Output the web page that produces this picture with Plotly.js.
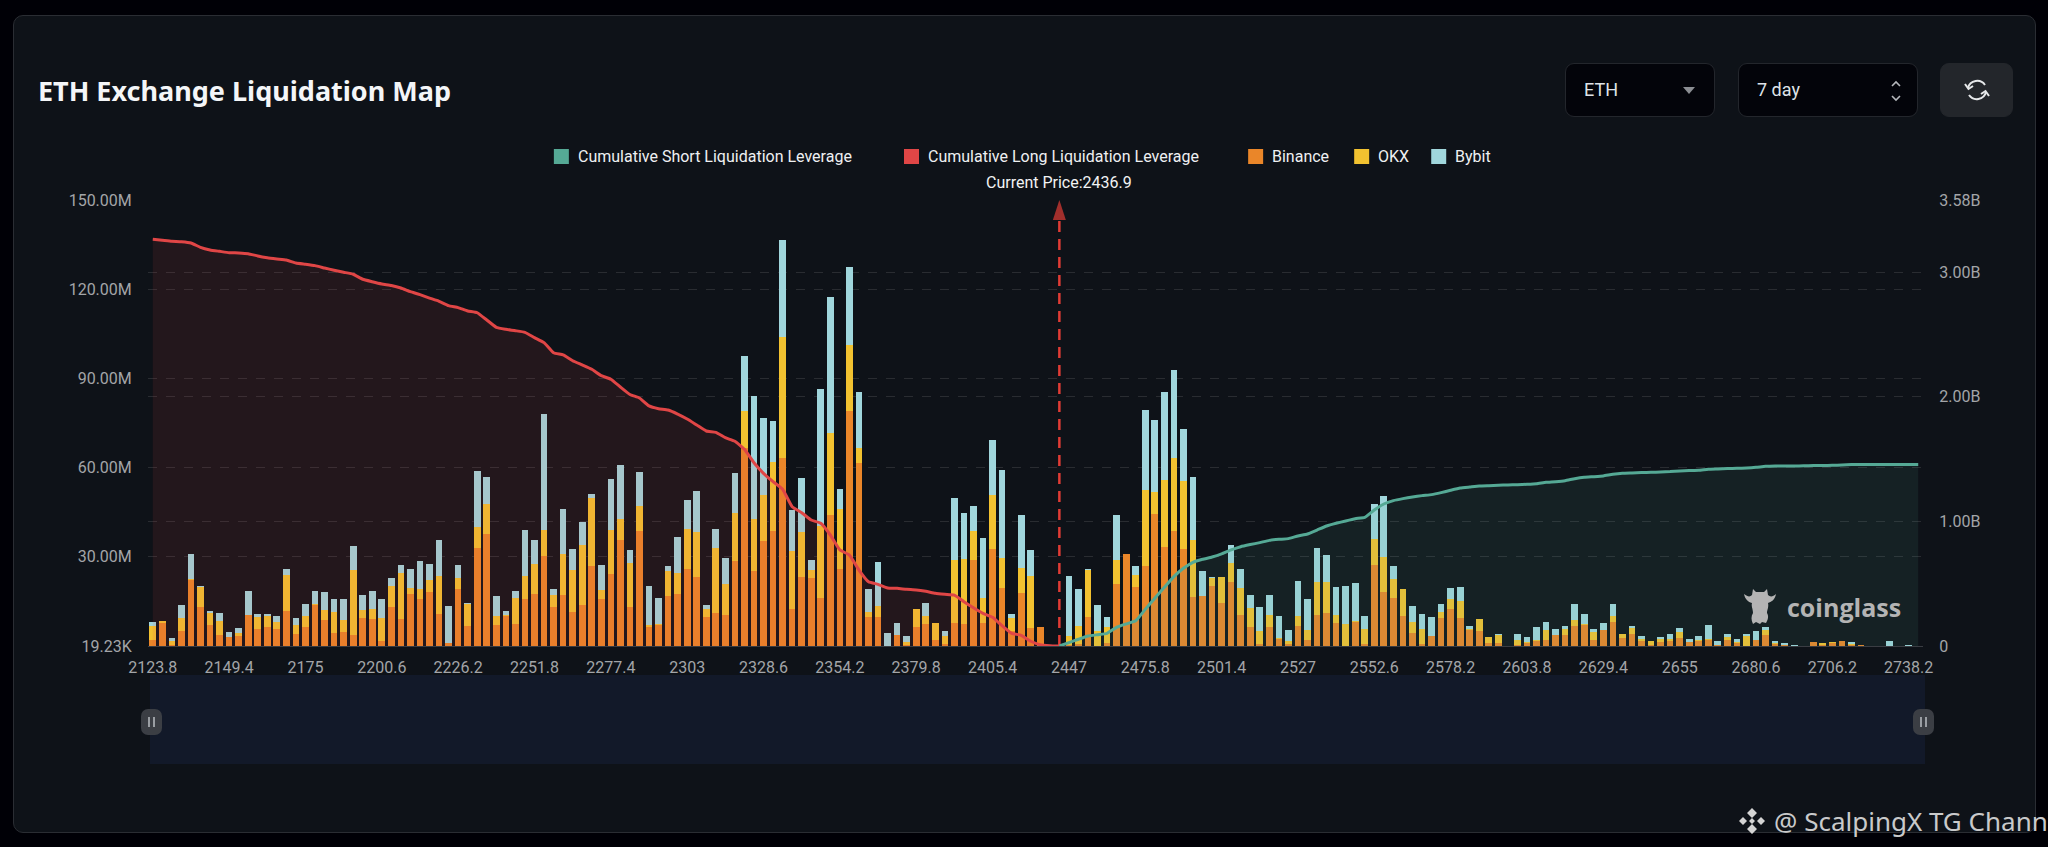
<!DOCTYPE html>
<html>
<head>
<meta charset="utf-8">
<script src="https://cdn.plot.ly/plotly-3.0.1.min.js"></script>
<style>
  html, body { margin: 0; padding: 0; background: #000006; width: 2048px; height: 847px; overflow: hidden; }
  #panel { position: absolute; left: 13px; top: 15px; width: 2021px; height: 816px; background: #0e1218;
           border: 1px solid #2a2d33; border-radius: 10px; box-sizing: content-box; }
  #chart { position: absolute; left: 0; top: 0; width: 2048px; height: 847px; }
  .box { position: absolute; top: 63px; height: 52px; background: #03040a; border: 1px solid #23262c; border-radius: 9px;
         color: #dfe3e8; font: 18px Roboto, sans-serif; line-height: 52px; box-sizing: content-box; }
  .box span { position: absolute; left: 18px; }
  #slider { position: absolute; left: 150px; top: 675px; width: 1775px; height: 89px; background: #121929; }
  .handle { position: absolute; top: 709px; width: 21px; height: 26px; background: #3b3e44; border-radius: 7px; }
  .handle i { position: absolute; top: 8px; width: 2px; height: 10px; background: #9a9ea3; }
  svg.over { position: absolute; pointer-events: none; }
</style>
</head>
<body>
<div id="panel"></div>
<div id="slider"></div>
<div class="handle" style="left:141px"><i style="left:7px"></i><i style="left:12px"></i></div>
<div class="handle" style="left:1913px"><i style="left:7px"></i><i style="left:12px"></i></div>
<div class="box" style="left:1565px;width:148px"><span>ETH</span>
  <svg class="over" style="left:116px;top:22px" width="14" height="10"><path d="M1 1 L13 1 L7 8 Z" fill="#8b8e93"/></svg>
</div>
<div class="box" style="left:1738px;width:178px"><span>7 day</span>
  <svg class="over" style="left:150px;top:15px" width="14" height="24"><path d="M3 7 L7 3 L11 7 M3 17 L7 21 L11 17" fill="none" stroke="#b5b8bc" stroke-width="1.6"/></svg>
</div>
<div class="box" style="left:1940px;width:71px;background:#23262b;border-color:#23262b">
  <svg class="over" style="left:23px;top:14px" width="26" height="24" viewBox="0 0 26 24">
    <path d="M4 10 A9.5 9.5 0 0 1 21 7 M22 14 A9.5 9.5 0 0 1 5 17" fill="none" stroke="#e6e8ea" stroke-width="2"/>
    <path d="M1 6 L4.5 11 L9 8 M25 18 L21.5 13 L17 16" fill="none" stroke="#e6e8ea" stroke-width="2"/>
  </svg>
</div>
<div id="chart"></div>
<svg class="over" style="left:1742px;top:585px" width="36" height="42" viewBox="0 0 36 42">
  <path d="M2 9 C6 12 8 12 10 10 L11 4 L14 7 L22 7 L25 4 L26 10 C28 12 31 12 34 9 C33 15 29 17 26 18 C27 22 25 25 25 28 C27 31 26 35 24 38 L20 37 L18 39 L14 37 L11 39 C9 35 9 31 11 28 C11 24 9 21 10 18 C6 17 3 14 2 9 Z" fill="#b4b4b4"/>
</svg>
<svg class="over" style="left:1738px;top:807px" width="28" height="28" viewBox="0 0 28 28">
  <path d="M14 1 L19 6 L14 11 L9 6 Z M14 17 L19 22 L14 27 L9 22 Z M5 10 L9 14 L5 18 L1 14 Z M23 10 L27 14 L23 18 L19 14 Z M14 11 L17 14 L14 17 L11 14 Z" fill="#d4d4d4"/>
</svg>
<script>
var binance = [1.9,7.7,0.3,4.9,22.1,13.0,7.2,3.6,2.9,3.3,
  10.3,5.8,6.4,5.6,11.9,4.1,6.3,13.8,8.6,4.4,
  4.8,3.8,9.4,9.0,1.8,13.0,9.2,17.4,15.7,18.2,
  10.7,0.9,19.3,6.8,32.8,37.8,7.2,10.2,7.5,15.9,
  17.6,30.2,13.2,17.3,11.5,13.7,26.9,15.7,24.2,35.7,
  13.2,38.8,6.3,7.2,16.9,17.4,25.9,23.3,9.9,11.1,
  10.4,28.6,66.7,25.3,35.4,38.7,63.2,12.4,23.3,22.9,
  16.3,44.2,25.9,79.1,61.5,9.9,9.9,0.1,3.7,0.4,
  6.5,7.5,2.0,0.7,7.8,7.4,28.8,7.7,32.5,19.5,
  5.0,17.8,6.1,6.4,0,0,0.4,0.7,9.9,0.1,
  1.0,20.7,30.9,20.0,27.0,44.5,33.4,38.6,32.6,16.5,
  16.7,20.1,14.3,21.6,10.5,6.5,0.7,6.3,2.2,0.7,
  6.8,2.0,10.5,11.1,7.8,0.1,8.2,0.7,27.4,18.2,
  16.3,10.0,4.3,0.7,3.5,9.5,12.6,9.5,5.4,5.2,
  1.0,1.0,0.1,0.2,1.0,1.8,2.0,3.6,3.6,6.7,
  7.2,2.0,5.3,8.0,2.6,4.0,1.6,0.2,1.5,1.6,
  2.8,1.3,1.8,2.1,0.4,2.0,1.1,0.1,2.0,3.8,
  0.7,0.2,0,0,1.2,0.4,1.1,1.7,0.4,0.2,
  0,0.1,0,0,0,0];

var okx = [4.7,0.7,1.4,4.6,0.6,6.8,3.8,4.8,0.1,1.1,
  0,3.9,3.6,2.6,11.9,2.9,3.9,0.3,3.4,7.2,
  3.8,21.6,2.6,3.3,7.6,7.2,15.4,2.2,3.6,4.0,
  12.7,0.2,3.7,7.4,7.1,10.0,3.0,0.2,8.5,7.5,
  9.9,8.7,3.9,13.7,13.9,20.4,23.0,3.1,14.7,7.1,
  14.7,8.4,0.9,0.2,8.4,7.1,13.3,15.0,2.7,21.7,
  10.3,16.1,12.3,17.4,15.5,23.3,40.6,19.5,15.0,2.5,
  23.9,27.5,20.1,22.3,5.0,1.6,3.5,0,0.1,0.9,
  5.9,2.6,5.7,2.6,21.1,21.9,10.0,8.4,18.4,10.2,
  4.4,8.4,17.5,0,0,0,3.0,6.0,15.8,5.1,
  5.5,8.1,0,3.8,25.4,7.4,22.3,24.6,22.9,19.3,
  0.1,2.8,9.0,6.2,9.0,6.4,4.5,4.0,0.6,0.9,
  3.3,3.5,11.1,10.4,2.5,7.2,0.1,5.0,8.7,11.7,
  6.4,9.3,3.7,5.0,0,2.0,3.1,5.8,0.4,3.9,
  1.9,2.6,0,1.7,0.2,0.3,3.3,0.1,2.1,2.1,
  0.2,2.6,0.1,2.0,1.3,1.9,0.9,1.6,0.7,0.8,
  2.0,0.1,0.3,0.1,0.1,0.9,0.2,3.3,0.1,1.6,
  0.3,0,0,0,0,0.5,0.3,0.1,0.2,0,
  0,0,0,0,0,0];

var bybit = [1.4,0.1,1.1,4.3,8.1,0.3,0.9,2.8,1.8,1.8,
  8.1,1.1,0.8,2.0,2.1,2.5,3.8,4.5,6.3,4.1,
  7.3,8.2,5.3,6.1,6.5,2.8,2.8,6.3,9.2,5.4,
  12.4,12.4,4.3,0.2,19.1,9.0,6.5,1.5,2.4,15.7,
  8.0,39.0,2.1,15.1,7.2,7.5,1.2,8.3,17.3,18.2,
  4.5,11.4,13.1,8.7,1.5,12.3,9.9,13.8,1.3,6.5,
  8.9,13.5,18.4,41.5,25.8,13.6,32.7,13.9,18.2,3.6,
  46.2,45.6,6.8,25.9,18.9,7.7,14.8,4.3,3.9,2.1,
  0.1,4.4,0.1,1.7,20.9,15.5,8.3,20.2,18.3,29.5,
  1.2,18.0,8.6,0,0,0,20.0,12.4,0.1,8.6,
  3.4,15.1,0,3.0,27.1,24.0,29.7,29.5,17.4,20.9,
  8.3,0.2,0,6.2,6.3,4.1,8.0,6.8,7.4,3.9,
  11.7,10.2,11.3,9.0,9.5,12.9,12.8,4.5,11.7,20.6,
  4.3,0,5.6,5.2,6.3,2.6,3.7,4.7,0.9,0,
  0.2,0.3,0,2.0,1.7,4.4,2.8,1.9,1.0,5.4,
  3.3,1.1,2.2,4.0,0,0.9,0.8,0,0.7,1.6,
  1.3,0.8,1.2,4.8,1.1,1.2,1.2,0.7,3.0,0.9,
  0.7,0.8,0.4,0,0,0.2,0,0,0.7,0,
  0,0,1.7,0,0.4,0];

// cumulative leverage in billions, long side runs down to the current price, short side up from it
var cumulativeLong = [3.265,3.257,3.249,3.245,3.235,3.200,3.179,3.168,3.157,3.155,
  3.149,3.131,3.117,3.107,3.098,3.074,3.064,3.053,3.034,3.016,
  3.000,2.984,2.944,2.924,2.906,2.894,2.874,2.844,2.820,2.793,
  2.767,2.732,2.716,2.689,2.675,2.617,2.558,2.542,2.531,2.518,
  2.475,2.435,2.354,2.336,2.290,2.256,2.221,2.170,2.141,2.079,
  2.019,1.991,1.927,1.905,1.894,1.862,1.822,1.774,1.726,1.715,
  1.672,1.643,1.579,1.471,1.386,1.319,1.258,1.118,1.070,1.011,
  0.985,0.891,0.771,0.730,0.610,0.516,0.495,0.466,0.463,0.455,
  0.450,0.439,0.423,0.415,0.409,0.356,0.307,0.262,0.230,0.163,
  0.102,0.086,0.038,0.010,0.003,0];

var cumulativeShort = [0,0.027,0.054,0.080,0.091,0.102,0.150,0.177,0.203,0.294,
  0.383,0.471,0.557,0.624,0.672,0.696,0.714,0.739,0.771,0.797,
  0.814,0.830,0.848,0.856,0.862,0.883,0.899,0.931,0.963,0.985,
  1.004,1.022,1.033,1.092,1.140,1.167,1.183,1.196,1.207,1.215,
  1.231,1.250,1.268,1.276,1.284,1.287,1.290,1.293,1.295,1.298,
  1.303,1.314,1.319,1.327,1.343,1.354,1.359,1.365,1.378,1.386,
  1.389,1.392,1.394,1.397,1.400,1.405,1.408,1.410,1.418,1.421,
  1.424,1.426,1.429,1.434,1.442,1.445,1.445,1.445,1.446,1.448,
  1.448,1.450,1.453,1.456,1.456,1.456,1.456,1.456,1.456,1.456,1.456];

var priceLabels = ['2123.8','2149.4','2175','2200.6','2226.2','2251.8','2277.4','2303','2328.6','2354.2','2379.8','2405.4',
  '2447','2475.8','2501.4','2527','2552.6','2578.2','2603.8','2629.4','2655','2680.6','2706.2','2738.2'];
var leftTicks = [0,30,60,90,120,150];
var leftLabels = ['19.23K','30.00M','60.00M','90.00M','120.00M','150.00M'];
var rightTicks = [0,1,2,3,3.58];
var rightLabels = ['0','1.00B','2.00B','3.00B','3.58B'];
var legendNames = ['Cumulative Short Liquidation Leverage','Cumulative Long Liquidation Leverage','Binance','OKX','Bybit'];
var legendColors = ['#55a995','#e04646','#ea8629','#f2c230','#a0d6dc'];
var currentPrice = 'Current Price:2436.9';
var currentIndex = 95;

var barCount = binance.length;
var bins = binance.map(function (v, i) { return i; });
var labelBins = priceLabels.map(function (p, i) { return i * 8; });
var tickEdges = labelBins.map(function (i) { return i - 0.5; });

// plot box in page pixels, the rest of the layout hangs off these
var W = 2048, H = 847, L = 148.3, R = 1922.6, T = 200, B = 646;
function px(x) { return (x - L) / (R - L); }
function py(y) { return (B - y) / (B - T); }

var traces = [
  { name: 'Binance', type: 'bar', x: bins, y: binance, marker: { color: '#ea8629' } },
  { name: 'OKX', type: 'bar', x: bins, y: okx, marker: { color: '#f2c230' } },
  { name: 'Bybit', type: 'bar', x: bins, y: bybit, marker: { color: '#a0d6dc' } },
  { name: 'Cumulative Long Liquidation Leverage', type: 'scatter', mode: 'lines', yaxis: 'y2',
    x: bins.slice(0, cumulativeLong.length), y: cumulativeLong,
    line: { color: '#e04646', width: 3, shape: 'spline', smoothing: 0.4 },
    fill: 'tozeroy', fillcolor: 'rgba(224,70,70,0.1)' },
  { name: 'Cumulative Short Liquidation Leverage', type: 'scatter', mode: 'lines', yaxis: 'y2',
    x: bins.slice(currentIndex, currentIndex + cumulativeShort.length), y: cumulativeShort,
    line: { color: '#55a995', width: 3, shape: 'spline', smoothing: 0.4 },
    fill: 'tozeroy', fillcolor: 'rgba(85,169,149,0.1)' },
  { name: 'Current Price', type: 'scatter', mode: 'lines+markers', yaxis: 'y', xaxis: 'x', cliponaxis: false,
    x: [currentIndex, currentIndex], y: [0, 150],
    line: { color: '#e03c35', width: 2.5, dash: '11px,7px' },
    marker: { symbol: 'arrow', size: [0, 21], color: '#e03c35', line: { width: 0 } } }
];

var annotations = [], shapes = [];
var legendSwatchX = [554, 904, 1248, 1354, 1431];
legendNames.forEach(function (name, i) {
  shapes.push({ type: 'rect', xref: 'paper', yref: 'paper', line: { width: 0 }, fillcolor: legendColors[i],
    x0: px(legendSwatchX[i]), x1: px(legendSwatchX[i] + 15), y0: py(164), y1: py(149) });
  annotations.push({ xref: 'paper', yref: 'paper', x: px(legendSwatchX[i] + 22), y: py(156.5), text: name, showarrow: false,
    xanchor: 'left', yanchor: 'middle', font: { family: 'Roboto', size: 16, color: '#eef0f2' } });
});
annotations.push({ xref: 'paper', yref: 'paper', x: px(1059), y: py(182), text: currentPrice, showarrow: false,
  xanchor: 'center', yanchor: 'middle', font: { family: 'Roboto', size: 16, color: '#f2f3f4' } });
annotations.push({ xref: 'paper', yref: 'paper', x: px(1785), y: py(607), text: 'coinglass', showarrow: false,
  xanchor: 'left', yanchor: 'middle', font: { family: 'Open Sans', size: 25, weight: 700, color: '#b4b4b4' } });
annotations.push({ xref: 'paper', yref: 'paper', x: px(1772), y: py(821), text: '@ ScalpingX TG Channel', showarrow: false,
  xanchor: 'left', yanchor: 'middle', font: { family: 'Noto Sans', size: 26, color: '#c9cacb' } });

var tickFont = { family: 'Roboto', size: 16, color: '#a3a5a8' };
var layout = {
  width: W, height: H,
  margin: { l: L, r: W - R, t: T, b: H - B, pad: 0 },
  paper_bgcolor: 'rgba(0,0,0,0)', plot_bgcolor: 'rgba(0,0,0,0)',
  title: { text: 'ETH Exchange Liquidation Map', xref: 'container', yref: 'container', x: 38 / W, xanchor: 'left',
    y: 1 - 92 / H, yanchor: 'middle', font: { family: 'Noto Sans', size: 27, weight: 700, color: '#f4f6f8' } },
  barmode: 'stack', bargap: 0.3, showlegend: false,
  xaxis: { range: [-0.5, barCount - 0.5], tickmode: 'array', tickvals: labelBins, ticktext: priceLabels,
    tickangle: 0, ticks: '', tickfont: tickFont, showgrid: false, zeroline: false, showline: true, linecolor: '#3a3d43', linewidth: 1,
    ticklabelstandoff: 7 },
  xaxis2: { overlaying: 'x', anchor: 'y', side: 'bottom', range: [-0.5, barCount - 0.5], tickmode: 'array', tickvals: tickEdges,
    ticktext: tickEdges.map(function () { return ''; }), ticks: 'outside', ticklen: 5, tickcolor: '#3a3d43', showgrid: false, zeroline: false },
  yaxis: { range: [0, 150], tickmode: 'array', tickvals: leftTicks, ticktext: leftLabels, tickfont: tickFont, ticks: 'outside', ticklen: 12,
    tickcolor: 'rgba(0,0,0,0)', gridcolor: '#292c31', griddash: 'dash', gridwidth: 1, zeroline: false },
  yaxis2: { overlaying: 'y', side: 'right', range: [0, 3.58], tickmode: 'array', tickvals: rightTicks, ticktext: rightLabels, tickfont: tickFont,
    ticks: 'outside', ticklen: 12, tickcolor: 'rgba(0,0,0,0)', showgrid: true, gridcolor: '#292c31', griddash: 'dash', gridwidth: 1, zeroline: false },
  annotations: annotations, shapes: shapes
};

Plotly.newPlot('chart', traces, layout, { displayModeBar: false, staticPlot: true });
</script>
</body>
</html>
